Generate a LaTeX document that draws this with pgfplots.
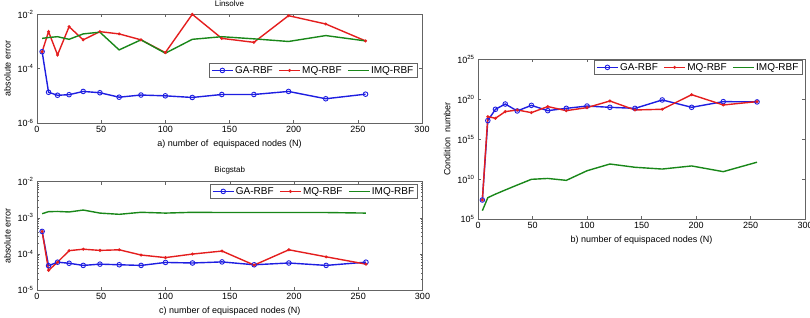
\documentclass[border=0pt]{standalone}
\usepackage{fontspec}
\setmainfont{Liberation Sans}
\usepackage{pgfplots}
\usepackage{pgfplotstable}
\pgfplotsset{compat=1.18}

\definecolor{gacol}{RGB}{30,30,225}
\definecolor{mqcol}{RGB}{228,30,30}
\definecolor{imqcol}{RGB}{25,135,25}
\definecolor{framecol}{RGB}{100,100,100}

\newcommand{\ex}[1]{10\textsuperscript{#1}}

% N, GA-RBF, MQ-RBF, IMQ-RBF
\pgfplotstableread{
N   ga      mq      imq
4   4.2e-4  4.2e-4  1.3e-3
9   1.35e-5 2.3e-3  1.4e-3
16  1.05e-5 3.2e-4  1.5e-3
25  1.1e-5  3.5e-3  1.2e-3
36  1.45e-5 1.15e-3 1.9e-3
49  1.3e-5  2.3e-3  2.2e-3
64  8.9e-6  1.9e-3  4.9e-4
81  1.07e-5 1.15e-3 1.15e-3
100 1.0e-5  3.9e-4  3.7e-4
121 8.7e-6  1.0e-2  1.2e-3
144 1.12e-5 1.3e-3  1.5e-3
169 1.12e-5 9.3e-4  1.25e-3
196 1.45e-5 8.9e-3  1.0e-3
225 7.8e-6  4.4e-3  1.65e-3
256 1.15e-5 1.05e-3 1.05e-3
}\linsolve

\pgfplotstableread{
N   ga      mq      imq
4   4.2e-4  4.2e-4  1.3e-3
9   4.7e-5  3.5e-5  1.48e-3
16  5.9e-5  5.9e-5  1.5e-3
25  5.5e-5  1.23e-4 1.45e-3
36  4.8e-5  1.35e-4 1.64e-3
49  5.2e-5  1.25e-4 1.35e-3
64  5.0e-5  1.3e-4  1.25e-3
81  4.8e-5  9.3e-5  1.42e-3
100 5.8e-5  7.9e-5  1.35e-3
121 5.6e-5  9.9e-5  1.42e-3
144 6.0e-5  1.2e-4  1.4e-3
169 5.0e-5  4.9e-5  1.4e-3
196 5.6e-5  1.3e-4  1.4e-3
225 4.8e-5  8.3e-5  1.4e-3
256 5.9e-5  5.2e-5  1.35e-3
}\bicgstab

\pgfplotstableread{
N   ga      mq      imq
4   2.4e7   2.4e7   1.1e6
9   2.1e17  6.6e17  4.7e7
16  5.5e18  4.1e17  1.3e8
25  2.5e19  2.8e18  4.3e8
36  3.4e18  4.5e18  1.8e9
49  1.7e19  2.1e18  9.3e9
64  3.7e18  1.2e19  1.2e10
81  7.2e18  3.7e18  6.9e9
100 1.4e19  8.9e18  1.1e11
121 9.7e18  6.0e19  7.7e11
144 7.2e18  4.5e18  3.0e11
169 8.1e19  5.5e18  1.8e11
196 9.7e18  3.7e20  4.4e11
225 5.0e19  1.9e19  8.5e10
256 4.6e19  5.0e19  1.3e12
}\condnum

\pgfplotsset{
  mstyle/.style={
    scale only axis,
    xmin=0, xmax=300, xtick={0,50,...,300},
    axis line style={draw=framecol, line width=0.6pt},
    tick style={draw=framecol, line width=0.5pt},
    major tick length=3pt, minor tick length=1.8pt,
    tick align=inside,
    font=\fontsize{9}{10}\selectfont,
    /pgf/number format/assume math mode=true,
    legend columns=3,
    legend style={draw=framecol, fill=white, font=\fontsize{10}{11}\selectfont,
      inner xsep=2pt, inner ysep=1pt,
      nodes={inner xsep=1.5pt, inner ysep=2pt},
      /tikz/every even column/.append style={column sep=4pt}},
    legend cell align=left,
    legend image code/.code={%
      \draw[mark repeat=2,mark phase=2] plot coordinates {(0pt,0pt) (10.5pt,0pt) (21pt,0pt)};},
    title style={font=\fontsize{8}{9}\selectfont, yshift=-2pt},
    every axis plot/.append style={line width=1.4pt},
  },
  gaplot/.style={color=gacol, mark=o, mark size=2.3pt, mark options={line width=0.9pt}},
  mqplot/.style={color=mqcol, mark=*, mark size=0.7pt},
  imqplot/.style={color=imqcol, mark=none},
}

\begin{document}
\begin{tikzpicture}
\useasboundingbox (0pt,0pt) rectangle (810pt,318pt);

% a) Linsolve
\begin{axis}[mstyle, ymode=log,
  at={(37pt,195pt)}, anchor=south west,
  width=385pt, height=108.7pt,
  title={Linsolve},
  ymin=1e-6, ymax=1e-2,
  ytick={1e-6,1e-4,1e-2},
  yticklabels={\ex{-6},\ex{-4},\ex{-2}},
  minor ytick={},
  xlabel={a) number of~ equispaced nodes (N)},
  ylabel={absolute error},
  legend style={at={(0.987,0.552)}, anchor=north east},
]
\addplot[gaplot] table[x=N,y=ga] {\linsolve};
\addplot[mqplot] table[x=N,y=mq] {\linsolve};
\addplot[imqplot] table[x=N,y=imq] {\linsolve};
\legend{GA-RBF,MQ-RBF,IMQ-RBF}
\end{axis}

% c) Bicgstab
\begin{axis}[mstyle, ymode=log,
  at={(37pt,28pt)}, anchor=south west,
  width=385.5pt, height=108.3pt,
  title={Bicgstab},
  ymin=1e-5, ymax=1e-2,
  ytick={1e-5,1e-4,1e-3,1e-2},
  yticklabels={\ex{-5},\ex{-4},\ex{-3},\ex{-2}},
  minor ytick={2e-5,3e-5,4e-5,5e-5,6e-5,7e-5,8e-5,9e-5,
               2e-4,3e-4,4e-4,5e-4,6e-4,7e-4,8e-4,9e-4,
               2e-3,3e-3,4e-3,5e-3,6e-3,7e-3,8e-3,9e-3},
  xlabel={c) number of equispaced nodes (N)},
  ylabel={absolute error},
  legend style={at={(0.988,0.979)}, anchor=north east},
]
\addplot[gaplot] table[x=N,y=ga] {\bicgstab};
\addplot[mqplot] table[x=N,y=mq] {\bicgstab};
\addplot[imqplot] table[x=N,y=imq] {\bicgstab};
\legend{GA-RBF,MQ-RBF,IMQ-RBF}
\end{axis}

% b) Condition number
\begin{axis}[mstyle, ymode=log,
  at={(478pt,99pt)}, anchor=south west,
  width=327pt, height=159.7pt,
  ymin=1e5, ymax=1e25,
  ytick={1e5,1e10,1e15,1e20,1e25},
  yticklabels={\ex{5},\ex{10},\ex{15},\ex{20},\ex{25}},
  minor ytick={},
  xlabel={b) number of equispaced nodes (N)},
  ylabel={Condition~ number},
  legend style={at={(0.991,0.996)}, anchor=north east},
]
\addplot[gaplot] table[x=N,y=ga] {\condnum};
\addplot[mqplot] table[x=N,y=mq] {\condnum};
\addplot[imqplot] table[x=N,y=imq] {\condnum};
\legend{GA-RBF,MQ-RBF,IMQ-RBF}
\end{axis}
\end{tikzpicture}
\end{document}
